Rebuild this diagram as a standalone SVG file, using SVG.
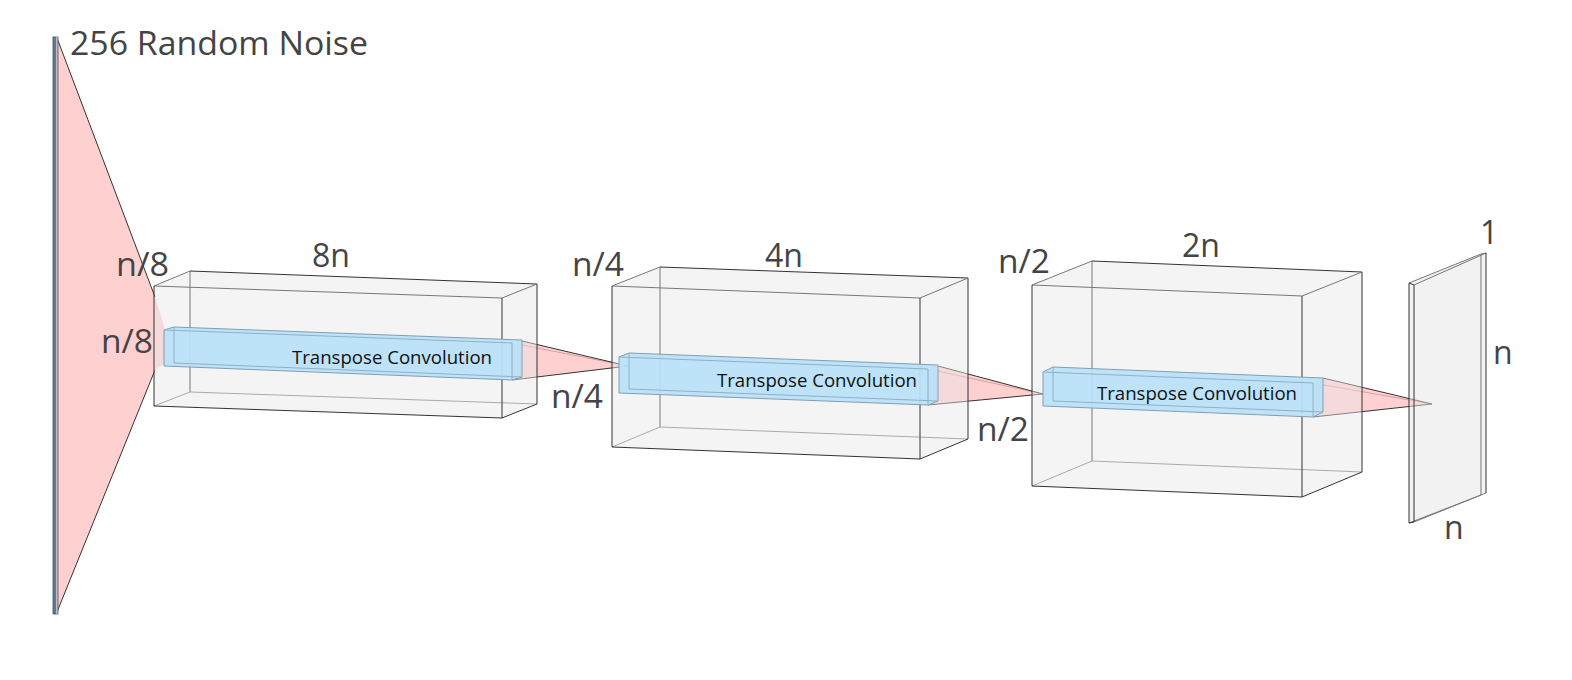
<svg xmlns="http://www.w3.org/2000/svg" width="1572" height="680" viewBox="0 0 1572 680">
<style>
.lbl{font-family:"Open Sans","Noto Sans","Liberation Sans",sans-serif;font-size:32px;fill:#444}
.conv{font-family:"Open Sans","Noto Sans","Liberation Sans",sans-serif;font-size:18.5px;fill:#111}
.boxfill{fill:#e6e6e6;fill-opacity:0.45;stroke:none}
.edge{stroke:#333;stroke-width:1;fill:none}
.mid{stroke:#777;stroke-width:1;fill:none}
.hid{stroke:#aaa;stroke-width:1;fill:none}
.bar{fill:#bae2f8;fill-opacity:0.95;stroke:#7f9fb3;stroke-width:1}
.barin{stroke:#8fb0c4;stroke-width:1;fill:none}
.pink{fill:#ffd0d0;stroke:none}
.pedge{stroke:#333;stroke-width:1;fill:none}
.plight{stroke:#d9a0a0;stroke-width:1;fill:none}
</style>
<rect width="1572" height="680" fill="#ffffff"/>

<g id="connectors">
  <polygon class="pink" points="57,38 155,297 165,329 165,363 155,370 57,612"/>
  <polyline class="pedge" points="57,38 155,297"/>
  <polyline class="pedge" points="57,612 155,370"/>
  <polygon class="pink" points="512,343 522,341 628,366 512,380"/>
  <line class="plight" x1="512" y1="343" x2="628" y2="366"/>
  <line class="pedge" x1="522" y1="341" x2="628" y2="366"/>
  <line class="pedge" x1="512" y1="380" x2="628" y2="366"/>
  <polygon class="pink" points="928,369 938,366 1043,394 928,405"/>
  <line class="plight" x1="928" y1="369" x2="1043" y2="394"/>
  <line class="pedge" x1="938" y1="366" x2="1043" y2="394"/>
  <line class="pedge" x1="928" y1="405" x2="1043" y2="394"/>
  <polygon class="pink" points="1313,383 1323,378 1432,404 1313,417"/>
  <line class="plight" x1="1313" y1="383" x2="1432" y2="404"/>
  <line class="pedge" x1="1323" y1="378" x2="1432" y2="404"/>
  <line class="pedge" x1="1313" y1="417" x2="1432" y2="404"/>
</g>

<g id="noise">
  <rect x="53" y="37" width="3" height="577" fill="#557d99"/>
  <rect x="56" y="38" width="2" height="575" fill="#d7b4bc"/>
  <rect x="53" y="37" width="5" height="577" fill="none" stroke="#3d5566" stroke-width="0.8"/>
  <text class="lbl" x="70" y="55" textLength="298" lengthAdjust="spacingAndGlyphs">256 Random Noise</text>
</g>

<g id="box1">
  <polygon class="boxfill" points="154,286 190,271 537,284 537,404 502,418 154,406"/>
  <line class="mid" x1="190" y1="271" x2="190" y2="392"/>
  <line class="hid" x1="190" y1="392" x2="537" y2="404"/>
  <line class="hid" x1="154" y1="406" x2="190" y2="392"/>
  <line class="mid" x1="154" y1="286" x2="190" y2="271"/>
  <line class="edge" x1="190" y1="271" x2="537" y2="284"/>
  <line class="edge" x1="537" y1="284" x2="537" y2="404"/>
  <line class="mid" x1="502" y1="298" x2="537" y2="284"/>
  <line class="edge" x1="502" y1="418" x2="537" y2="404"/>
  <line class="mid" x1="154" y1="286" x2="502" y2="298"/>
  <line class="edge" x1="502" y1="298" x2="502" y2="418"/>
  <line class="edge" x1="154" y1="406" x2="502" y2="418"/>
  <line class="edge" x1="154" y1="286" x2="154" y2="406"/>
  <polygon class="bar" points="164,330 174,327 522,340 522,377 512,380 164,366"/>
  <line class="barin" x1="164" y1="330" x2="512" y2="343"/>
  <line class="barin" x1="512" y1="343" x2="512" y2="380"/>
  <line class="barin" x1="174" y1="327" x2="174" y2="363"/>
  <line class="barin" x1="174" y1="363" x2="522" y2="377"/>
  <text class="conv" x="292" y="364" textLength="200" lengthAdjust="spacingAndGlyphs">Transpose Convolution</text>
  <text class="lbl" x="116" y="276" textLength="53" lengthAdjust="spacingAndGlyphs">n/8</text>
  <text class="lbl" x="101" y="353" textLength="52" lengthAdjust="spacingAndGlyphs">n/8</text>
  <text class="lbl" x="312" y="267" textLength="38" lengthAdjust="spacingAndGlyphs">8n</text>
  <text class="lbl" x="551" y="408" textLength="52" lengthAdjust="spacingAndGlyphs">n/4</text>
</g>

<g id="box2">
  <polygon class="boxfill" points="612,286 660,267 968,278 968,439 920,459 612,447"/>
  <line class="mid" x1="660" y1="267" x2="660" y2="427"/>
  <line class="hid" x1="660" y1="427" x2="968" y2="439"/>
  <line class="hid" x1="612" y1="447" x2="660" y2="427"/>
  <line class="mid" x1="612" y1="286" x2="660" y2="267"/>
  <line class="edge" x1="660" y1="267" x2="968" y2="278"/>
  <line class="edge" x1="968" y1="278" x2="968" y2="439"/>
  <line class="mid" x1="920" y1="298" x2="968" y2="278"/>
  <line class="edge" x1="920" y1="459" x2="968" y2="439"/>
  <line class="mid" x1="612" y1="286" x2="920" y2="298"/>
  <line class="edge" x1="920" y1="298" x2="920" y2="459"/>
  <line class="edge" x1="612" y1="447" x2="920" y2="459"/>
  <line class="edge" x1="612" y1="286" x2="612" y2="447"/>
  <polygon class="bar" points="619,357 629,353 938,365 938,401 928,405 619,393"/>
  <line class="barin" x1="619" y1="357" x2="928" y2="369"/>
  <line class="barin" x1="928" y1="369" x2="928" y2="405"/>
  <line class="barin" x1="629" y1="353" x2="629" y2="389"/>
  <line class="barin" x1="629" y1="389" x2="938" y2="401"/>
  <text class="conv" x="717" y="387" textLength="200" lengthAdjust="spacingAndGlyphs">Transpose Convolution</text>
  <text class="lbl" x="572" y="276" textLength="52" lengthAdjust="spacingAndGlyphs">n/4</text>
  <text class="lbl" x="765" y="267" textLength="38" lengthAdjust="spacingAndGlyphs">4n</text>
  <text class="lbl" x="977" y="441" textLength="52" lengthAdjust="spacingAndGlyphs">n/2</text>
</g>

<g id="box3">
  <polygon class="boxfill" points="1032,285 1092,261 1362,272 1362,472 1302,497 1032,486"/>
  <line class="mid" x1="1092" y1="261" x2="1092" y2="461"/>
  <line class="hid" x1="1092" y1="461" x2="1362" y2="472"/>
  <line class="hid" x1="1032" y1="486" x2="1092" y2="461"/>
  <line class="mid" x1="1032" y1="285" x2="1092" y2="261"/>
  <line class="edge" x1="1092" y1="261" x2="1362" y2="272"/>
  <line class="edge" x1="1362" y1="272" x2="1362" y2="472"/>
  <line class="mid" x1="1302" y1="296" x2="1362" y2="272"/>
  <line class="edge" x1="1302" y1="497" x2="1362" y2="472"/>
  <line class="mid" x1="1032" y1="285" x2="1302" y2="296"/>
  <line class="edge" x1="1302" y1="296" x2="1302" y2="497"/>
  <line class="edge" x1="1032" y1="486" x2="1302" y2="497"/>
  <line class="edge" x1="1032" y1="285" x2="1032" y2="486"/>
  <polygon class="bar" points="1043,372 1053,367 1323,378 1323,412 1313,417 1043,406"/>
  <line class="barin" x1="1043" y1="372" x2="1313" y2="383"/>
  <line class="barin" x1="1313" y1="383" x2="1313" y2="417"/>
  <line class="barin" x1="1053" y1="367" x2="1053" y2="401"/>
  <line class="barin" x1="1053" y1="401" x2="1323" y2="412"/>
  <text class="conv" x="1097" y="400" textLength="200" lengthAdjust="spacingAndGlyphs">Transpose Convolution</text>
  <text class="lbl" x="998" y="273" textLength="52" lengthAdjust="spacingAndGlyphs">n/2</text>
  <text class="lbl" x="1182" y="257" textLength="38" lengthAdjust="spacingAndGlyphs">2n</text>
</g>

<g id="output">
  <polygon points="1409,283 1481,254 1486,253 1486,493 1414,522 1409,523" fill="#e6e6e6" fill-opacity="0.5" stroke="none"/>
  <polyline class="mid" points="1409,283 1481,254 1486,253"/>
  <line class="mid" x1="1414" y1="285" x2="1486" y2="253"/>
  <line class="mid" x1="1481" y1="254" x2="1481" y2="495"/>
  <line class="edge" x1="1486" y1="253" x2="1486" y2="493"/>
  <line class="mid" x1="1409" y1="523" x2="1481" y2="495"/>
  <line class="mid" x1="1414" y1="522" x2="1486" y2="493"/>
  <polygon class="edge" points="1409,283 1414,285 1414,522 1409,523"/>
  <text class="lbl" x="1480" y="244">1</text>
  <text class="lbl" x="1493" y="364">n</text>
  <text class="lbl" x="1444" y="539">n</text>
</g>
</svg>
